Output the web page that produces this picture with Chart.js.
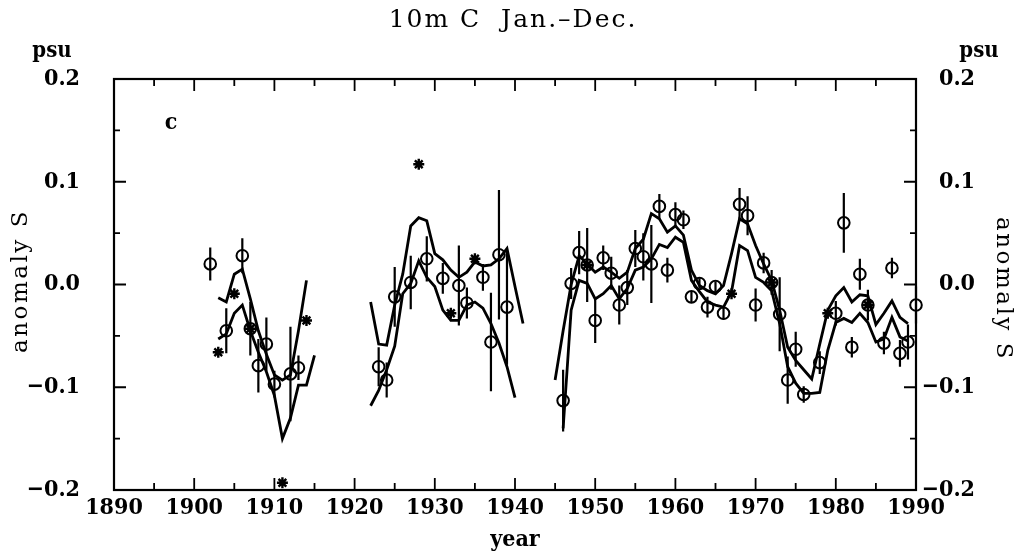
<!DOCTYPE html>
<html>
<head>
<meta charset="utf-8">
<script src="https://cdn.jsdelivr.net/npm/chart.js@4.4.1/dist/chart.umd.min.js"></script>
<style>
  html, body { margin: 0; padding: 0; background: #fff; }
  #wrap { width: 1021px; height: 558px; position: relative; }
</style>
</head>
<body>
<div id="wrap"><canvas id="c" width="1021" height="558"></canvas></div>
<script>
// Axis ranges and tick labels
const yearMin = 1890, yearMax = 1990, yearStep = 10;
const salMin = -0.2, salMax = 0.2, salStep = 0.1;

// Annual observations (circles) with their error bar half-widths (psu)
const obsYears = [1902, 1904, 1906, 1907, 1908, 1909, 1910, 1912, 1913,
  1923, 1924, 1925, 1927, 1929, 1931, 1933, 1934, 1936, 1937, 1938, 1939,
  1946, 1947, 1948, 1949, 1950, 1951, 1952, 1953, 1954, 1955, 1956, 1957, 1958, 1959, 1960,
  1961, 1962, 1963, 1964, 1965, 1966, 1968, 1969, 1970, 1971, 1972, 1973, 1974, 1975, 1976,
  1978, 1980, 1981, 1982, 1983, 1984, 1986, 1987, 1988, 1989, 1990];
const obsValues = [0.020, -0.045, 0.028, -0.043, -0.079, -0.058, -0.097, -0.087, -0.081,
  -0.080, -0.093, -0.012, 0.002, 0.025, 0.006, -0.001, -0.018, 0.007, -0.056, 0.029, -0.022,
  -0.113, 0.001, 0.031, 0.019, -0.035, 0.026, 0.011, -0.020, -0.003, 0.035, 0.027, 0.020, 0.076, 0.014, 0.068,
  0.063, -0.012, 0.001, -0.022, -0.002, -0.028, 0.078, 0.067, -0.020, 0.021, 0.002, -0.029, -0.093, -0.063, -0.107,
  -0.076, -0.028, 0.060, -0.061, 0.010, -0.020, -0.057, 0.016, -0.067, -0.056, -0.020];
const obsErr = [0.016, 0.022, 0.017, 0.026, 0.026, 0.026, 0.013, 0.046, 0.012,
  0.019, 0.017, 0.029, 0.026, 0.022, 0.015, 0.039, 0.015, 0.013, 0.048, 0.063, 0.056,
  0.030, 0.015, 0.021, 0.036, 0.022, 0.012, 0.016, 0.019, 0.017, 0.018, 0.023, 0.038, 0.012, 0.012, 0.012,
  0.009, 0.005, 0.005, 0.010, 0.005, 0.006, 0.016, 0.019, 0.016, 0.010, 0.012, 0.036, 0.023, 0.017, 0.008,
  0.011, 0.012, 0.029, 0.010, 0.015, 0.015, 0.011, 0.010, 0.013, 0.017, 0.018];

// Single values without error estimate (asterisks)
const starYears = [1903, 1905, 1907, 1911, 1914, 1928, 1932, 1935, 1949, 1967, 1972, 1979, 1984];
const starValues = [-0.066, -0.009, -0.043, -0.193, -0.035, 0.117, -0.028, 0.025, 0.019, -0.009, 0.002, -0.028, -0.020];

// Upper smoothed curve, three pieces
const upperYearsA = [1903, 1904, 1905, 1906, 1907, 1908, 1909, 1910, 1911, 1912, 1913, 1914];
const upperA = [-0.013, -0.017, 0.010, 0.015, -0.014, -0.045, -0.068, -0.088, -0.093, -0.088, -0.045, 0.004];
const upperYearsB = [1922, 1923, 1924, 1925, 1926, 1927, 1928, 1929, 1930, 1931, 1932, 1933, 1934, 1935, 1936, 1937, 1938, 1939, 1940, 1941];
const upperB = [-0.017, -0.058, -0.059, -0.020, 0.010, 0.057, 0.065, 0.062, 0.030, 0.024, 0.014, 0.007, 0.012, 0.022, 0.018, 0.019, 0.025, 0.035, -0.002, -0.038];
const upperYearsC = [1945, 1946, 1947, 1948, 1949, 1950, 1951, 1952, 1953, 1954, 1955, 1956, 1957, 1958, 1959,
  1960, 1961, 1962, 1963, 1964, 1965, 1966, 1967, 1968, 1969, 1970, 1971, 1972, 1973, 1974,
  1975, 1976, 1977, 1978, 1979, 1980, 1981, 1982, 1983, 1984, 1985, 1986, 1987, 1988, 1989];
const upperC = [-0.093, -0.045, 0.000, 0.028, 0.020, 0.012, 0.017, 0.012, 0.006, 0.012, 0.035, 0.044, 0.069, 0.064, 0.051,
  0.057, 0.048, 0.014, -0.001, -0.006, -0.009, -0.001, 0.030, 0.064, 0.059, 0.038, 0.020, 0.004, -0.025, -0.061,
  -0.074, -0.083, -0.092, -0.058, -0.025, -0.011, -0.003, -0.017, -0.010, -0.011, -0.039, -0.028, -0.016, -0.032, -0.038];

// Lower smoothed curve, three pieces
const lowerYearsA = [1903, 1904, 1905, 1906, 1907, 1908, 1909, 1910, 1911, 1912, 1913, 1914, 1915];
const lowerA = [-0.053, -0.048, -0.028, -0.020, -0.045, -0.066, -0.085, -0.108, -0.150, -0.130, -0.098, -0.098, -0.069];
const lowerYearsB = [1922, 1923, 1924, 1925, 1926, 1927, 1928, 1929, 1930, 1931, 1932, 1933, 1934, 1935, 1936, 1937, 1938, 1939, 1940];
const lowerB = [-0.118, -0.103, -0.083, -0.060, -0.009, 0.001, 0.023, 0.007, -0.002, -0.025, -0.035, -0.035, -0.020, -0.017, -0.023, -0.038, -0.057, -0.080, -0.110];
const lowerYearsC = [1946, 1947, 1948, 1949, 1950, 1951, 1952, 1953, 1954, 1955, 1956, 1957, 1958, 1959,
  1960, 1961, 1962, 1963, 1964, 1965, 1966, 1967, 1968, 1969, 1970, 1971, 1972, 1973, 1974,
  1975, 1976, 1977, 1978, 1979, 1980, 1981, 1982, 1983, 1984, 1985, 1986, 1987, 1988, 1989];
const lowerC = [-0.140, -0.025, 0.004, 0.001, -0.014, -0.009, -0.001, -0.014, -0.004, 0.014, 0.017, 0.025, 0.039, 0.036,
  0.046, 0.041, 0.004, -0.007, -0.017, -0.020, -0.022, -0.007, 0.038, 0.033, 0.007, 0.002, -0.006, -0.038, -0.080,
  -0.096, -0.106, -0.106, -0.105, -0.064, -0.037, -0.033, -0.037, -0.028, -0.037, -0.056, -0.053, -0.032, -0.051, -0.055];

const FONT = '"DejaVu Serif Condensed", "DejaVu Serif", serif';
const TITLE_FONT = '"DejaVu Serif", serif';
const INK = '#000';

// join curve pieces into one series, broken by a null between pieces
function pieces(list) {
  const out = [];
  list.forEach(([yrs, vals], k) => {
    if (k > 0) out.push({ x: (yrs[0] + out[out.length - 1].x) / 2, y: null });
    yrs.forEach((yr, i) => out.push({ x: yr, y: vals[i] }));
  });
  return out;
}

// vertical error bars as separate two-point strokes
const errorBars = [];
obsYears.forEach((yr, i) => {
  errorBars.push({ x: yr, y: obsValues[i] - obsErr[i] });
  errorBars.push({ x: yr, y: obsValues[i] + obsErr[i] });
  errorBars.push({ x: yr, y: null });
});

const fmtSal = v => {
  const r = Math.round(v * 10) / 10;
  const s = Math.abs(r).toFixed(1);
  return r < 0 ? '\u2212' + s : s;
};

// frame, inward tick marks and free text
const framePlugin = {
  id: 'frame',
  afterDraw(chart) {
    const { ctx, chartArea: a, scales } = chart;
    const xs = scales.x, ys = scales.y;
    ctx.save();
    ctx.strokeStyle = INK;
    ctx.lineWidth = 2.2;
    ctx.strokeRect(a.left, a.top, a.right - a.left, a.bottom - a.top);
    ctx.lineWidth = 1.8;
    ctx.beginPath();
    for (let yr = yearMin; yr <= yearMax; yr += yearStep / 2) {
      const px = xs.getPixelForValue(yr);
      const len = (yr - yearMin) % yearStep === 0 ? 12 : 7;
      ctx.moveTo(px, a.bottom); ctx.lineTo(px, a.bottom - len);
      ctx.moveTo(px, a.top); ctx.lineTo(px, a.top + len);
    }
    for (let i = 0; i <= 8; i++) {
      const v = salMin + i * salStep / 2;
      const py = ys.getPixelForValue(v);
      const len = i % 2 === 0 ? 12 : 6;
      ctx.moveTo(a.left, py); ctx.lineTo(a.left + len, py);
      ctx.moveTo(a.right, py); ctx.lineTo(a.right - len, py);
    }
    ctx.stroke();

    ctx.fillStyle = INK;
    ctx.textBaseline = 'middle';
    ctx.textAlign = 'center';
    ctx.font = '25px ' + TITLE_FONT;
    ctx.letterSpacing = '2px';
    ctx.fillText('10m C  Jan.\u2013Dec.', 513, 20);
    ctx.letterSpacing = '0px';
    ctx.font = 'bold 22px ' + FONT;
    ctx.fillText('psu', 52, 51);
    ctx.fillText('psu', 979, 51);
    ctx.font = 'bold 23px ' + FONT;
    ctx.fillText('c', a.left + 57, a.top + 44);

    ctx.font = '23px ' + TITLE_FONT;
    ctx.letterSpacing = '2.5px';
    ctx.save();
    ctx.translate(21, 281);
    ctx.rotate(-Math.PI / 2);
    ctx.fillText('anomaly S', 0, 0);
    ctx.restore();
    ctx.save();
    ctx.translate(1003, 289);
    ctx.rotate(Math.PI / 2);
    ctx.fillText('anomaly S', 0, 0);
    ctx.restore();
    ctx.letterSpacing = '0px';
    ctx.restore();
  }
};

const lineStyle = { type: 'line', borderColor: INK, borderWidth: 2.8, pointRadius: 0, spanGaps: false, tension: 0, fill: false };
const tickFont = { family: FONT, size: 23, weight: 'bold' };

new Chart(document.getElementById('c'), {
  data: {
    datasets: [
      Object.assign({}, lineStyle, { label: 'upper', data: pieces([[upperYearsA, upperA], [upperYearsB, upperB], [upperYearsC, upperC]]) }),
      Object.assign({}, lineStyle, { label: 'lower', data: pieces([[lowerYearsA, lowerA], [lowerYearsB, lowerB], [lowerYearsC, lowerC]]) }),
      { type: 'line', label: 'error', data: errorBars, borderColor: INK, borderWidth: 2.2, pointRadius: 0, spanGaps: false, clip: false },
      { type: 'scatter', label: 'observed', data: obsYears.map((yr, i) => ({ x: yr, y: obsValues[i] })),
        pointStyle: 'circle', pointRadius: 5.8, borderWidth: 2, borderColor: INK, backgroundColor: 'rgba(0,0,0,0)', clip: false },
      { type: 'scatter', label: 'single', data: starYears.map((yr, i) => ({ x: yr, y: starValues[i] })),
        pointStyle: 'star', pointRadius: 5.5, borderWidth: 2.4, borderColor: INK, backgroundColor: INK, clip: false }
    ]
  },
  options: {
    responsive: false,
    animation: false,
    events: [],
    layout: { padding: { left: 0, right: 46, top: 0, bottom: 0 } },
    plugins: { legend: { display: false }, tooltip: { enabled: false }, title: { display: false } },
    scales: {
      x: {
        type: 'linear', position: 'bottom', min: yearMin, max: yearMax,
        ticks: { stepSize: yearStep, color: INK, font: tickFont, padding: 4, maxRotation: 0,
          callback: v => String(v) },
        grid: { display: false, drawTicks: false }, border: { display: false },
        title: { display: true, text: 'year', color: INK, font: { family: FONT, size: 23, weight: 'bold' }, padding: { top: 0, bottom: 4 } },
        afterFit(s) { s.height = 68; }
      },
      xTop: {
        type: 'linear', position: 'top', min: yearMin, max: yearMax,
        ticks: { display: false }, grid: { display: false, drawTicks: false }, border: { display: false },
        afterFit(s) { s.height = 79; }
      },
      y: {
        type: 'linear', position: 'left', min: salMin, max: salMax,
        ticks: { stepSize: salStep, color: INK, font: tickFont, padding: 34, callback: fmtSal },
        grid: { display: false, drawTicks: false }, border: { display: false },
        afterFit(s) { s.width = 114; }
      },
      yRight: {
        type: 'linear', position: 'right', min: salMin, max: salMax,
        ticks: { stepSize: salStep, color: INK, font: tickFont, padding: 10, crossAlign: 'far', callback: fmtSal },
        grid: { display: false, drawTicks: false }, border: { display: false },
        afterFit(s) { s.width = 59; }
      }
    }
  },
  plugins: [framePlugin]
});
</script>
</body>
</html>
